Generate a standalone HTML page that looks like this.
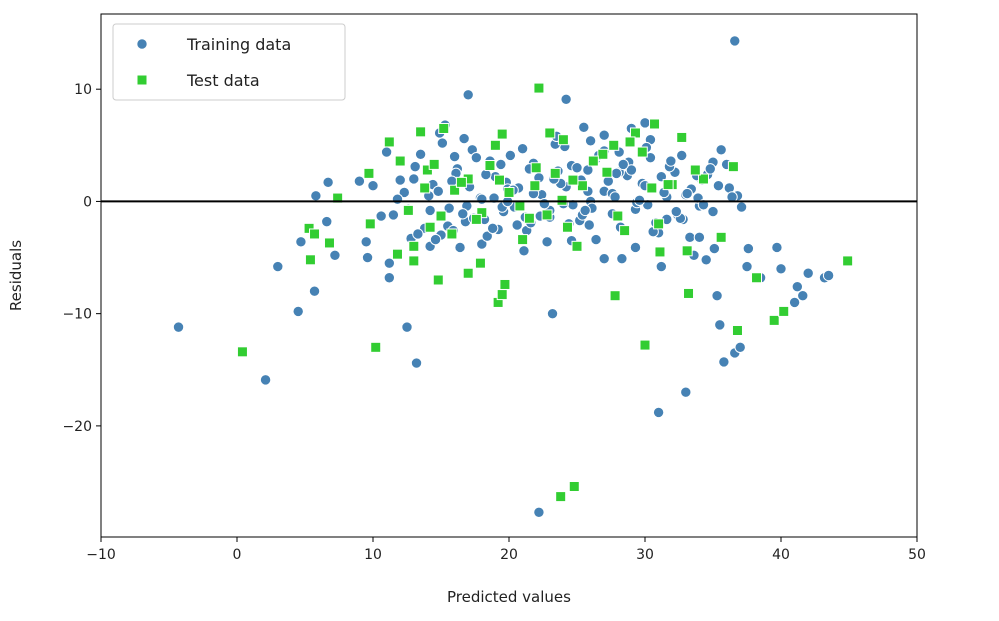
<!DOCTYPE html>
<html><head><meta charset="utf-8"><style>
html,body{margin:0;padding:0;background:#fff;}
svg{display:block;font-family:"DejaVu Sans","Liberation Sans",sans-serif;}
</style></head><body>
<svg id="chart" width="999" height="621"></svg>
<script>
const xTicks=[-10,0,10,20,30,40,50];
const yTicks=[-20,-10,0,10];
const xLabel="Predicted values";
const yLabel="Residuals";
const trainX=[-4.3,2.1,3,4.5,4.7,5.7,5.8,6.6,6.7,7.2,9,9.5,9.6,10,11,11.2,11.2,12.5,13.2,12,13,14.2,15,17,16,18,23.2,24.2,22.2,26,28.3,31,31.2,33,33.3,34,34.5,35.3,35.5,35.8,36.6,36.6,37,37.1,37.5,37.6,38.5,39.7,40,41,41.2,41.6,42,43.2,43.5,36.8,35,35.6,36,30,29,27,25.5,26,
11.5,12.3,13.1,13.8,14.4,15.1,15.6,16.2,16.8,17.3,17.9,18.4,19,19.6,20.1,20.7,21.3,21.8,22.4,23,23.6,24.1,24.7,25.3,25.9,26.4,27,27.6,28.1,28.7,29.3,29.8,30.4,31,31.6,32.2,32.8,33.4,34,34.6,
12.8,13.5,14.2,14.9,15.5,16.1,16.7,17.4,18,18.6,19.2,19.8,20.4,21,21.6,22.2,22.8,23.4,24,24.6,25.2,25.8,26.4,27,27.6,28.2,28.8,29.4,30,30.6,31.2,31.8,32.4,33,33.6,34.2,
13.3,14.1,15.3,16.4,17.6,18.8,19.9,21.1,22.3,23.5,24.6,25.8,27,28.1,29.3,30.4,31.6,32.7,33.9,35.1,36.2,
10.6,11.8,12.6,14.6,15.8,16.9,18.2,19.4,20.6,21.8,23,24.2,25.4,26.6,27.8,29,30.2,31.4,32.6,33.8,35,36.4,
14.8,15.9,17.1,18.3,19.5,20.3,21.5,22.6,23.8,25,26.1,27.3,28.4,29.6,30.8,31.9,33.1,34.3,35.4,16.6,18.9,21.2,23.3,25.6,27.9,30.1,32.3,34.8,19.9,24.4];
const trainY=[-11.2,-15.9,-5.8,-9.8,-3.6,-8,0.5,-1.8,1.7,-4.8,1.8,-3.6,-5,1.4,4.4,-5.5,-6.8,-11.2,-14.4,1.9,2,-4,-3,9.5,4,-3.8,-10,9.1,-27.7,0,-5.1,-18.8,-5.8,-17,-3.2,-3.2,-5.2,-8.4,-11,-14.3,14.3,-13.5,-13,-0.5,-5.8,-4.2,-6.8,-4.1,-6,-9,-7.6,-8.4,-6.4,-6.8,-6.6,0.5,3.5,4.6,3.3,7,6.5,5.9,6.6,5.4,
-1.2,0.8,3.1,-2.4,1.5,5.2,-0.6,2.9,-1.8,4.6,0.3,-3.1,2.2,-0.9,4.1,1.2,-2.6,3.4,0.6,-1.4,2.7,4.9,-0.3,1.9,-2.1,3.8,0.9,-1.1,4.4,2.3,-0.7,1.6,3.9,-2.8,0.4,2.6,-1.6,1.1,-0.4,2.4,
-3.3,4.2,-0.8,6.1,-2.2,2.5,5.6,-1.5,0.2,3.6,-2.5,1.7,-0.5,4.7,-1.9,2.1,-3.6,5.1,-0.2,3.2,-1.7,2.8,-3.4,4.5,0.7,-2.3,3.5,-0.1,1.4,-2.7,2.2,3.1,-1.2,0.6,-4.8,1.9,
-2.9,0.5,6.8,-4.1,3.9,-2.4,1.1,-4.4,-1.3,5.8,-3.5,0.9,-5.1,2.6,-4.1,5.5,-1.6,4.1,0.3,-4.2,1.2,
-1.3,0.2,-0.7,-3.4,1.8,-0.4,-1.6,3.3,-2.1,0.7,-0.8,1.3,-1.2,4.1,0.4,2.8,-0.3,0.8,-1.5,2.3,-0.9,0.4,
0.9,-2.6,1.3,2.4,-0.5,1.0,2.9,-0.2,1.6,3.0,-0.6,1.8,3.3,0.1,-1.9,3.6,0.7,-0.3,1.4,-1.1,0.3,-1.4,2.0,-0.8,2.5,4.8,-0.9,2.9,0.0,-2.0];
const testX=[0.4,5.3,5.4,5.7,6.8,7.4,9.7,10.2,9.8,11.2,12,11.8,13,13,13.5,14,14.5,14.8,15.2,17,17.9,19.2,19.5,19.7,22.2,23.8,24.8,23,24,27.8,28.5,30,30.7,31.1,31,32.7,33.1,33.2,35.6,36.5,36.8,38.2,39.5,40.2,44.9,29.3,27.7,26.9,22,20,18,16,19,21,25,24.3,15,17,34.3,32,31.7,30.5,28,25.4,19.5,
12.6,14.2,16.5,18.6,21.5,23.4,26.2,28.9,13.8,20.8,24.7,22.8,17.6,15.8,19.3,27.2,29.8,33.7,23.9,21.9];
const testY=[-13.4,-2.4,-5.2,-2.9,-3.7,0.3,2.5,-13,-2,5.3,3.6,-4.7,-5.3,-4,6.2,2.8,3.3,-7,6.5,-6.4,-5.5,-9,-8.3,-7.4,10.1,-26.3,-25.4,6.1,5.5,-8.4,-2.6,-12.8,6.9,-4.5,-2,5.7,-4.4,-8.2,-3.2,3.1,-11.5,-6.8,-10.6,-9.8,-5.3,6.1,5,4.2,3,0.8,-1,1,5,-3.4,-4,-2.3,-1.3,2,2,1.5,1.5,1.2,-1.3,1.4,6,
-0.8,-2.3,1.7,3.2,-1.5,2.5,3.6,5.3,1.2,-0.4,1.9,-1.2,-1.6,-2.9,1.9,2.6,4.4,2.8,0.1,1.4];
const L=101,R=917,T=14,B=537;
const xmin=-10,xmax=50,ymin=-29.9,ymax=16.7;
const sx=v=>L+(v-xmin)/(xmax-xmin)*(R-L);
const sy=v=>B-(v-ymin)/(ymax-ymin)*(B-T);
const NS="http://www.w3.org/2000/svg";
const svg=document.getElementById('chart');
function mk(tag,attrs,parent){const e=document.createElementNS(NS,tag);for(const k in attrs)e.setAttribute(k,attrs[k]);(parent||svg).appendChild(e);return e;}
const g1=mk('g',{});


for(let i=0;i<trainX.length;i++){const c=mk('circle',{cx:sx(trainX[i]),cy:sy(trainY[i]),r:5.2,fill:'#4682b4',stroke:'#fff','stroke-width':1},g1);

}
const g2=mk('g',{});


for(let i=0;i<testX.length;i++){const s=mk('rect',{x:sx(testX[i])-5,y:sy(testY[i])-5,width:10,height:10,fill:'#32cd32',stroke:'#fff','stroke-width':1},g2);

}
const zl=mk('line',{x1:L,x2:R,y1:sy(0),y2:sy(0),stroke:'#000','stroke-width':2});


const fr=mk('rect',{x:L,y:T,width:R-L,height:B-T,fill:'none',stroke:'#000','stroke-width':1});


xTicks.forEach(t=>{const x=sx(t);mk('line',{x1:x,x2:x,y1:B,y2:B+5,stroke:'#000'});
const tx=mk('text',{x:x,y:B+22,'text-anchor':'middle','font-size':14,fill:'#222'});tx.textContent=t<0?'\u2212'+(-t):t;

});
yTicks.forEach(t=>{const y=sy(t);mk('line',{x1:L-5,x2:L,y1:y,y2:y,stroke:'#000'});
const tx=mk('text',{x:L-9,y:y+5,'text-anchor':'end','font-size':14,fill:'#222'});tx.textContent=t<0?'\u2212'+(-t):t;

});
const xl=mk('text',{x:(L+R)/2,y:602,'text-anchor':'middle','font-size':15,fill:'#222'});xl.textContent=xLabel;


const yl=mk('text',{x:21,y:(T+B)/2,'text-anchor':'middle','font-size':15,fill:'#222',transform:`rotate(-90 21 ${(T+B)/2})`});yl.textContent=yLabel;


const lg=mk('g',{});


mk('rect',{x:113,y:24,width:232,height:76,rx:3,fill:'#fff','fill-opacity':0.85,stroke:'#ccc'},lg);
const m1=mk('circle',{cx:142,cy:44,r:5.2,fill:'#4682b4',stroke:'#fff'},lg);


const t1=mk('text',{x:187,y:50,'font-size':16,fill:'#222'},lg);t1.textContent='Training data';


const m2=mk('rect',{x:137,y:75,width:10,height:10,fill:'#32cd32',stroke:'#fff'},lg);


const t2=mk('text',{x:187,y:86,'font-size':16,fill:'#222'},lg);t2.textContent='Test data';


</script>
</body></html>
